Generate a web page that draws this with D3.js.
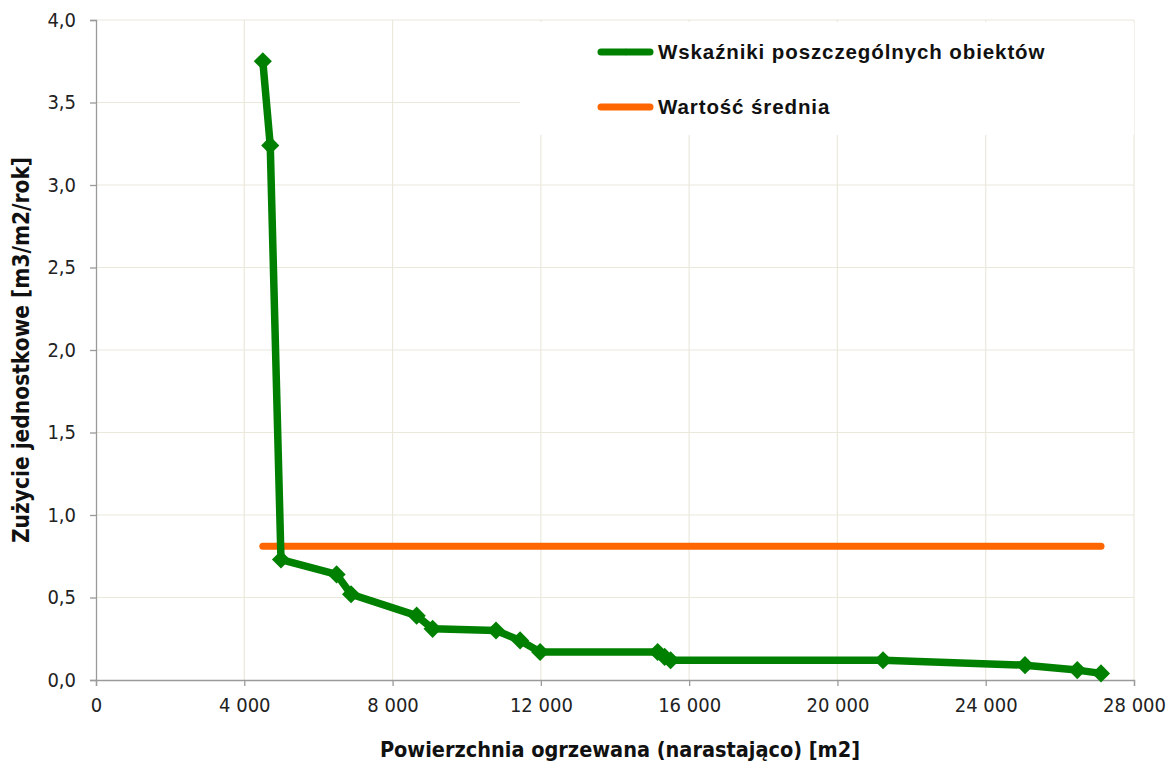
<!DOCTYPE html>
<html>
<head>
<meta charset="utf-8">
<script src="https://cdn.jsdelivr.net/npm/d3@7"></script>
<style>
  body { margin: 0; background: #fff; }
  .tick text { font-family: "DejaVu Sans Condensed", "DejaVu Sans", sans-serif; font-size: 20px; fill: #222; }
</style>
</head>
<body>
<div id="chart"></div>
<script>
// cumulative heated area [m2] and unit consumption [m3/m2/rok]
var areas = [4500, 4700, 4990, 6490, 6880, 8650, 9080, 10790, 11440, 11980,
             15150, 15340, 15500, 21230, 25060, 26470, 27110];
var usage = [3.75, 3.24, 0.73, 0.64, 0.52, 0.39, 0.31, 0.30, 0.24, 0.17,
             0.17, 0.14, 0.12, 0.12, 0.09, 0.06, 0.04];
var meanValue = 0.81;
var xTicks = [0, 4000, 8000, 12000, 16000, 20000, 24000, 28000];
var yTicks = [0, 0.5, 1, 1.5, 2, 2.5, 3, 3.5, 4];
var legendLabels = ["Wskaźniki poszczególnych obiektów", "Wartość średnia"];

var width = 1170, height = 762;
var margin = {top: 20, right: 36, bottom: 82, left: 96},
    boundedWidth = width - margin.left - margin.right,
    boundedHeight = height - margin.top - margin.bottom;

var svg = d3.select("#chart").append("svg")
  .attr("width", width)
  .attr("height", height);

var x = d3.scaleLinear().domain([0, 28000]).range([0, boundedWidth]),
    y = d3.scaleLinear().domain([0, 4]).range([boundedHeight, 0]);

var g = svg.append("g")
  .attr("transform", `translate(${margin.left},${margin.top})`);

// grid
g.append("g").selectAll("line.hgrid")
  .data(yTicks.slice(1))
  .enter().append("line")
  .attr("x1", 0).attr("x2", boundedWidth)
  .attr("y1", d => y(d)).attr("y2", d => y(d))
  .attr("stroke", "#ebe8dc").attr("stroke-width", 1.2);
g.append("g").selectAll("line.vgrid")
  .data(xTicks.slice(1))
  .enter().append("line")
  .attr("x1", d => x(d)).attr("x2", d => x(d))
  .attr("y1", 0).attr("y2", boundedHeight)
  .attr("stroke", "#ebe8dc").attr("stroke-width", 1.2);

// legend background hides the grid
g.append("rect")
  .attr("x", 424).attr("y", 2)
  .attr("width", boundedWidth - 424).attr("height", 113)
  .attr("fill", "#fff");

// axes
var fmt = d3.formatLocale({decimal: ",", thousands: " ", grouping: [3]});
var xAxis = d3.axisBottom(x).tickValues(xTicks).tickSize(6).tickPadding(12)
  .tickFormat(fmt.format(",d"));
var yAxis = d3.axisLeft(y).tickValues(yTicks).tickSize(6).tickPadding(14)
  .tickFormat(fmt.format(".1f"));

var xg = g.append("g")
  .attr("transform", `translate(0,${boundedHeight})`)
  .call(xAxis);
var yg = g.append("g").call(yAxis);
[xg, yg].forEach(function(a) {
  a.select(".domain").attr("stroke", "#9a9a9a").attr("stroke-width", 1.3);
  a.selectAll(".tick line").attr("stroke", "#9a9a9a").attr("stroke-width", 1.3);
});

// mean line
g.append("line")
  .attr("x1", x(d3.min(areas))).attr("x2", x(d3.max(areas)))
  .attr("y1", y(meanValue)).attr("y2", y(meanValue))
  .attr("stroke", "#ff6600").attr("stroke-width", 7)
  .attr("stroke-linecap", "round");

// series
var points = areas.map((a, i) => ({area: a, usage: usage[i]}));
var line = d3.line().x(d => x(d.area)).y(d => y(d.usage));
g.append("path")
  .datum(points)
  .attr("d", line)
  .attr("fill", "none")
  .attr("stroke", "#008000")
  .attr("stroke-width", 7.5)
  .attr("stroke-linejoin", "round");

var diamond = d3.symbol().type(d3.symbolDiamond2).size(210);
g.selectAll(".marker")
  .data(points)
  .enter().append("path")
  .attr("class", "marker")
  .attr("transform", d => `translate(${x(d.area)},${y(d.usage)})`)
  .attr("d", diamond)
  .attr("fill", "#008000");

// legend
var legend = g.append("g").attr("transform", "translate(502,32)");
var legendColors = ["#008000", "#ff6600"];
legendLabels.forEach(function(lbl, i) {
  var row = legend.append("g").attr("transform", `translate(0,${i * 55})`);
  row.append("line")
    .attr("x1", 3).attr("x2", 52)
    .attr("stroke", legendColors[i]).attr("stroke-width", 7)
    .attr("stroke-linecap", "round");
  if (i === 0) {
    row.append("path").attr("d", d3.symbol().type(d3.symbolDiamond2).size(30))
      .attr("transform", "translate(28,0)").attr("fill", legendColors[i]);
  }
  row.append("text")
    .attr("x", 60).attr("y", 7)
    .attr("font-family", "'Liberation Sans', Arial, sans-serif")
    .attr("font-weight", "bold")
    .attr("font-size", 20.5)
    .attr("letter-spacing", 0.9)
    .attr("fill", "#111")
    .text(lbl);
});

// axis titles
svg.append("text")
  .attr("x", 620).attr("y", 757)
  .attr("text-anchor", "middle")
  .attr("font-family", "'DejaVu Sans Condensed', 'DejaVu Sans', sans-serif")
  .attr("font-weight", "bold").attr("font-size", 21.5)
  .attr("fill", "#111")
  .text("Powierzchnia ogrzewana (narastająco) [m2]");

svg.append("text")
  .attr("transform", `translate(29,350) rotate(-90)`)
  .attr("text-anchor", "middle")
  .attr("font-family", "'DejaVu Sans Condensed', 'DejaVu Sans', sans-serif")
  .attr("font-weight", "bold").attr("font-size", 22.5)
  .attr("fill", "#111")
  .text("Zużycie jednostkowe [m3/m2/rok]");
</script>
</body>
</html>
